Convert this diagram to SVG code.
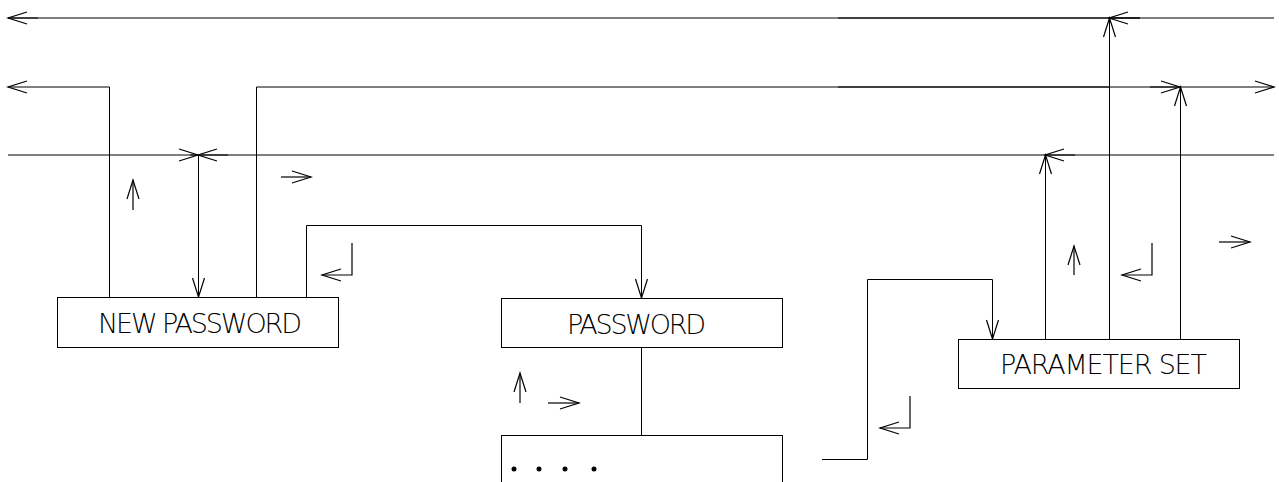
<svg xmlns="http://www.w3.org/2000/svg" width="1279" height="482" viewBox="0 0 1279 482">
  <style>
    .ln { fill: none; stroke: #000; stroke-width: 1; }
    .bus { fill: none; stroke: #000; stroke-width: 1; }
    .box { fill: #fff; stroke: #000; stroke-width: 1; }
    .lbl { font-family: "DejaVu Sans", "Liberation Sans", sans-serif; font-weight: 200; font-size: 27px; fill: #000; }
    .sym { fill: none; stroke: #000; stroke-width: 1.2; }
  </style>
  <defs>
    <marker id="ah" viewBox="-21 -8 22 16" markerWidth="22" markerHeight="16" refX="0" refY="0" orient="auto" markerUnits="userSpaceOnUse" overflow="visible">
      <path d="M-19,-6 L0,0 L-19,6" fill="none" stroke="#000" stroke-width="1.2"/>
    </marker>
  </defs>

  <g id="connectors">
    <!-- bus lines -->
    <line class="bus" x1="1274" y1="18" x2="8" y2="18" marker-end="url(#ah)"/>
    <line class="bus" x1="38" y1="18" x2="8" y2="18"/>
    <line class="bus" x1="838" y1="18" x2="1140" y2="18"/>
    <polyline class="ln" points="109.5,297 109.5,87 8,87" marker-end="url(#ah)"/>
    <polyline class="ln" points="256.5,297 256.5,87 1274,87" marker-end="url(#ah)"/>
    <line class="bus" x1="838" y1="87" x2="1109" y2="87"/>
    <line class="bus" x1="8" y1="155" x2="1274" y2="155"/>
    <!-- arrows on bus lines -->
    <line class="bus" x1="1140" y1="18" x2="1109" y2="18" marker-end="url(#ah)"/>
    <line class="ln" x1="1109.5" y1="339" x2="1109.5" y2="18" marker-end="url(#ah)"/>
    <line class="bus" x1="1150" y1="87" x2="1180" y2="87" marker-end="url(#ah)"/>
    <line class="ln" x1="1180.5" y1="339" x2="1180.5" y2="87" marker-end="url(#ah)"/>
    <line class="bus" x1="1075" y1="155" x2="1045" y2="155" marker-end="url(#ah)"/>
    <line class="ln" x1="1045.5" y1="339" x2="1045.5" y2="155" marker-end="url(#ah)"/>
    <line class="bus" x1="228" y1="155" x2="198" y2="155" marker-end="url(#ah)"/>
    <line class="bus" x1="190" y1="155" x2="198" y2="155" marker-end="url(#ah)"/>
    <line class="ln" x1="198.5" y1="155" x2="198.5" y2="297" marker-end="url(#ah)"/>
    <!-- box to box -->
    <polyline class="ln" points="306.5,297 306.5,225.5 641.5,225.5 641.5,298" marker-end="url(#ah)"/>
    <line class="ln" x1="641.5" y1="347" x2="641.5" y2="435"/>
    <polyline class="ln" points="822,459.5 867.5,459.5 867.5,279.5 992.5,279.5 992.5,339" marker-end="url(#ah)"/>
  </g>

  <g id="symbols">
    <!-- up arrows -->
    <line class="sym" x1="133" y1="210" x2="133" y2="180" marker-end="url(#ah)"/>
    <line class="sym" x1="520" y1="403" x2="520" y2="373" marker-end="url(#ah)"/>
    <line class="sym" x1="1074" y1="275" x2="1074" y2="246" marker-end="url(#ah)"/>
    <!-- right arrows -->
    <line class="sym" x1="281" y1="177" x2="311" y2="177" marker-end="url(#ah)"/>
    <line class="sym" x1="548" y1="403" x2="579" y2="403" marker-end="url(#ah)"/>
    <line class="sym" x1="1219" y1="242" x2="1250" y2="242" marker-end="url(#ah)"/>
    <!-- hook arrows -->
    <polyline class="sym" points="352,243 352,275 322,275" marker-end="url(#ah)"/>
    <polyline class="sym" points="1152,243 1152,275 1122,275" marker-end="url(#ah)"/>
    <polyline class="sym" points="910,396 910,428 880,428" marker-end="url(#ah)"/>
  </g>

  <g id="node-new-password">
    <rect class="box" x="57.5" y="297.5" width="281" height="50"/>
    <text class="lbl" x="98" y="333" textLength="204" lengthAdjust="spacing">NEW PASSWORD</text>
  </g>
  <g id="node-password">
    <rect class="box" x="501.5" y="298.5" width="281" height="49"/>
    <text class="lbl" x="567" y="334" textLength="139" lengthAdjust="spacing">PASSWORD</text>
  </g>
  <g id="node-parameter-set">
    <rect class="box" x="958.5" y="339.5" width="281" height="49"/>
    <text class="lbl" x="1000" y="374" textLength="207" lengthAdjust="spacing">PARAMETER SET</text>
  </g>
  <g id="node-continuation">
    <rect class="box" x="501.5" y="435.5" width="281" height="60"/>
    <circle cx="514" cy="469" r="2.5" fill="#000"/>
    <circle cx="539" cy="469" r="2.5" fill="#000"/>
    <circle cx="565" cy="469" r="2.5" fill="#000"/>
    <circle cx="594" cy="469" r="2.5" fill="#000"/>
  </g>
</svg>
